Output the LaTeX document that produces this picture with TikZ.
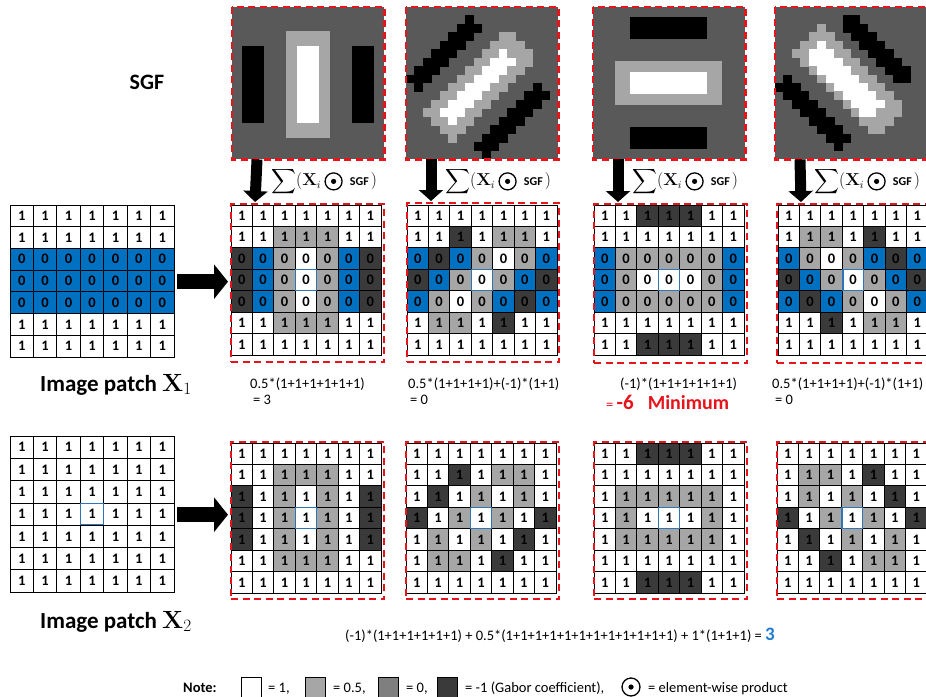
\documentclass[tikz,border=0pt]{standalone}
\usepackage{exscale}
\usepackage[no-math]{fontspec}
\setmainfont{Carlito}
\usetikzlibrary{arrows.meta,positioning}

\definecolor{gW}{HTML}{FFFFFF}
\definecolor{gL}{HTML}{A6A6A6}
\definecolor{gD}{HTML}{3A3A3A}
\definecolor{gB}{HTML}{0070C0}
\definecolor{gZero}{HTML}{7F7F7F}
\definecolor{sgfbg}{HTML}{595959}
\definecolor{centerblue}{HTML}{2E75B6}
\definecolor{redline}{HTML}{E8141B}
\definecolor{numblue}{HTML}{1F7BD0}

\tikzset{
  cell/.style={draw=black, line width=0.8pt, inner sep=0pt, font=\bfseries\fontsize{14.5}{14.5}\selectfont},
  gridbox/.style={draw=black, line width=1.4pt, inner sep=0pt, anchor=north west},
  redframe/.style={draw=redline, line width=2.2pt, dash pattern=on 7pt off 4.5pt, inner sep=0pt, anchor=north west},
  sgfbox/.style={fill=sgfbg, inner sep=0pt, anchor=north west, minimum width=152pt, minimum height=152pt},
  centerbox/.style={draw=centerblue, line width=1.2pt},
  fatarrow/.style={line width=15pt, -{Triangle[width=34pt,length=14pt]}},
  downarrow/.style={line width=11pt, -{Triangle[width=24pt,length=11pt]}},
  sumlbl/.style={anchor=west, inner sep=0pt, font=\fontsize{16}{16}\selectfont},
  odotmark/.style={circle, draw, line width=1.3pt, minimum size=17pt, inner sep=0pt,
    path picture={\fill (path picture bounding box.center) circle (2.6pt);}},
  sgfsmall/.style={inner sep=0pt, font=\bfseries\fontsize{12}{12}\selectfont},
  sumtext/.style={anchor=base west, inner sep=0pt, font=\fontsize{14.5}{16}\selectfont},
  patchcap/.style={anchor=base, inner sep=0pt, font=\bfseries\fontsize{23}{23}\selectfont},
  legbox/.style={draw=black, line width=0.8pt, minimum width=20pt, minimum height=20pt, inner sep=0pt, anchor=north west},
}

% 7x7 colour maps: W white, L 0.5, D -1, Z 0 (blue where the patch is 0)
\def\mapX{{Z,Z,Z,Z,Z,Z,Z},{Z,Z,Z,Z,Z,Z,Z},{Z,Z,Z,Z,Z,Z,Z},{Z,Z,Z,Z,Z,Z,Z},{Z,Z,Z,Z,Z,Z,Z},{Z,Z,Z,Z,Z,Z,Z},{Z,Z,Z,Z,Z,Z,Z}}
\def\mapA{{W,W,W,W,W,W,W},{W,W,L,L,L,W,W},{D,Z,L,W,L,Z,D},{D,Z,L,W,L,Z,D},{D,Z,L,W,L,Z,D},{W,W,L,L,L,W,W},{W,W,W,W,W,W,W}}
\def\mapB{{W,W,W,W,W,W,W},{W,W,D,W,L,L,W},{Z,D,Z,L,W,L,Z},{D,Z,L,W,L,Z,D},{Z,L,W,L,Z,D,Z},{W,L,L,W,D,W,W},{W,W,W,W,W,W,W}}
\def\mapC{{W,W,D,D,D,W,W},{W,W,W,W,W,W,W},{Z,L,L,L,L,L,Z},{Z,L,W,W,W,L,Z},{Z,L,L,L,L,L,Z},{W,W,W,W,W,W,W},{W,W,D,D,D,W,W}}
\def\mapD{{W,W,W,W,W,W,W},{W,L,L,W,D,W,W},{Z,L,W,L,Z,D,Z},{D,Z,L,W,L,Z,D},{Z,D,Z,L,W,L,Z},{W,W,D,W,L,L,W},{W,W,W,W,W,W,W}}

% #1 name, #2 x, #3 y, #4 cell width, #5 cell height, #6 patch (1 or 2), #7 map
\newcommand{\patchgrid}[7]{
  \foreach \rowmap [count=\ri] in #7{
    \foreach \cellcode [count=\ci] in \rowmap{
      \def\fc{g\cellcode}
      \def\val{1}
      \ifnum#6=1 \ifnum\ri>2 \ifnum\ri<6 \def\val{0}\fi\fi\fi
      \if Z\cellcode
        \def\fc{gW}
        \ifnum#6=1 \ifnum\ri>2 \ifnum\ri<6 \def\fc{gB}\fi\fi\fi
      \fi
      \node[cell, fill=\fc, minimum width=#4pt, minimum height=#5pt]
        (#1-\ri-\ci) at ({#2+(\ci-0.5)*#4},{#3+(\ri-0.5)*#5}) {\val};
    }
  }
}

\def\sgfcell{8.4444}
% pixelated diagonal filter, #1 = 1 for /, -1 for \, centre (#2,#3)
\newcommand{\sgfdiag}[3]{
  \foreach \ii in {0,...,17}{
    \foreach \jj in {0,...,17}{
      \pgfmathsetmacro\du{(\ii+0.5)*\sgfcell-#2}
      \pgfmathsetmacro\dv{(\jj+0.5)*\sgfcell-#3}
      \pgfmathsetmacro\uu{abs((\du)+(#1)*(\dv))*0.7071}
      \pgfmathsetmacro\vv{abs((\du)-(#1)*(\dv))*0.7071}
      \pgfmathtruncatemacro\kk{((\uu<9.5)*(\vv<45)) ? 3 : (((\uu<21)*(\vv<59)) ? 2 : (((abs(\uu-46)<9)*(\vv<44)) ? 1 : 0))}
      \ifcase\kk
      \or \fill[black] ({\ii*\sgfcell},{\jj*\sgfcell}) rectangle ++(\sgfcell+0.4,\sgfcell+0.4);
      \or \fill[gL] ({\ii*\sgfcell},{\jj*\sgfcell}) rectangle ++(\sgfcell+0.4,\sgfcell+0.4);
      \or \fill[white] ({\ii*\sgfcell},{\jj*\sgfcell}) rectangle ++(\sgfcell+0.4,\sgfcell+0.4);
      \fi
    }
  }
}

\begin{document}
\begin{tikzpicture}[x=1pt,y=-1pt]
\useasboundingbox (0,0) rectangle (926,696);
\clip (0,0) rectangle (926,696);
\fill[white] (0,0) rectangle (926,696);

% filters
\node[font=\bfseries\fontsize{22}{22}\selectfont] (lblSGF) at (147,82) {SGF};
\node[sgfbox] (s1) at (232,7) {};
\node[sgfbox] (s2) at (406,7) {};
\node[sgfbox] (s3) at (593,7) {};
\node[sgfbox] (s4) at (775,7) {};
\begin{scope}[shift={(232,7)}]
  \fill[black] (10,39) rectangle ++(22,77);
  \fill[black] (120,39) rectangle ++(22,77);
  \fill[gL] (54,24) rectangle ++(44,107);
  \fill[white] (65,39) rectangle ++(22,77);
\end{scope}
\begin{scope}[shift={(406,7)}]
  \sgfdiag{1}{73}{79}
\end{scope}
\begin{scope}[shift={(593,7)}]
  \fill[black] (37,10) rectangle ++(77,22);
  \fill[black] (37,120) rectangle ++(77,22);
  \fill[gL] (22,54) rectangle ++(107,44);
  \fill[white] (37,65) rectangle ++(77,22);
\end{scope}
\begin{scope}[shift={(775,7)}]
  \sgfdiag{-1}{71}{75}
\end{scope}
\foreach \s in {s1,s2,s3,s4}
  \draw[redframe] (\s.north west) rectangle (\s.south east);

% image patches
\patchgrid{pX1}{10}{205}{23.43}{21.7}{1}{\mapX}
\node[gridbox, minimum width=164pt, minimum height=152pt] (pX1) at (10,205) {};
\patchgrid{pX2}{10}{436}{23.43}{22.3}{2}{\mapX}
\node[gridbox, minimum width=164pt, minimum height=156pt] (pX2) at (10,436) {};

% filtered patches
\patchgrid{g11}{231}{205}{21.43}{21.43}{1}{\mapA}
\patchgrid{g12}{407}{205}{21.43}{21.43}{1}{\mapB}
\patchgrid{g13}{594}{205}{21.43}{21.43}{1}{\mapC}
\patchgrid{g14}{778}{205}{21.43}{21.43}{1}{\mapD}
\patchgrid{g21}{231}{443}{21.43}{21.43}{2}{\mapA}
\patchgrid{g22}{406}{443}{21.43}{21.43}{2}{\mapB}
\patchgrid{g23}{594}{443}{21.43}{21.43}{2}{\mapC}
\patchgrid{g24}{777}{443}{21.43}{21.43}{2}{\mapD}
\foreach \g in {pX2,g11,g12,g13,g14,g21,g22,g23,g24}
  \draw[centerbox] ([xshift=1pt,yshift=-1pt]\g-4-4.north west) rectangle ([xshift=-1pt,yshift=1pt]\g-4-4.south east);

\node[redframe, minimum width=153pt, minimum height=158pt] (f11) at (230,203) {};
\node[redframe, minimum width=152pt, minimum height=159pt] (f12) at (406,202) {};
\node[redframe, minimum width=153pt, minimum height=159pt] (f13) at (593,203) {};
\node[redframe, minimum width=153pt, minimum height=159pt] (f14) at (776,203) {};
\node[redframe, minimum width=153pt, minimum height=157pt] (f21) at (230,441) {};
\node[redframe, minimum width=153pt, minimum height=157pt] (f22) at (405,441) {};
\node[redframe, minimum width=153pt, minimum height=157pt] (f23) at (593,441) {};
\node[redframe, minimum width=153pt, minimum height=157pt] (f24) at (776,441) {};

% arrows
\draw[fatarrow, shorten <=2pt, shorten >=2pt] (pX1.east) -- (pX1.east -| f11.west);
\draw[fatarrow, shorten <=2pt, shorten >=2pt] (pX2.east) -- (pX2.east -| f21.west);
\foreach \n in {1,2,3,4}{
  \draw[downarrow, shorten >=1pt] ([xshift=25pt]s\n.south west) -- ([xshift=25pt]f1\n.north west);
  \node[sumlbl] (sum\n) at ([xshift=39pt,yshift=-22pt]s\n.south west) {$\displaystyle\sum(\mathbf{X}_i$};
  \node[odotmark, right=3pt of sum\n] (dot\n) {};
  \node[sgfsmall, right=7pt of dot\n] (sgf\n) {SGF\,{\mdseries\fontsize{16}{16}\selectfont$)$}};
}

% captions and sums
\node[patchcap] (capX1) at (116,391) {Image patch $\mathbf{X}_1$};
\node[patchcap] (capX2) at (116,628) {Image patch $\mathbf{X}_2$};
\node[sumtext] (r11) at (250,388) {0.5*(1+1+1+1+1+1)};
\node[sumtext] (r11b) at (253,404) {= 3};
\node[sumtext] (r12) at (408,388) {0.5*(1+1+1+1)+(-1)*(1+1)};
\node[sumtext] (r12b) at (410,404) {= 0};
\node[sumtext] (r13) at (620,388) {(-1)*(1+1+1+1+1+1)};
\node[sumtext, text=redline] (r13b) at (606,409) {= {\bfseries\fontsize{21}{21}\selectfont -6}\hspace{14pt}{\bfseries\fontsize{20}{20}\selectfont Minimum}};
\node[sumtext] (r14) at (772,388) {0.5*(1+1+1+1)+(-1)*(1+1)};
\node[sumtext] (r14b) at (775,404) {= 0};
\node[sumtext] (r2) at (345,640) {(-1)*(1+1+1+1+1+1) + 0.5*(1+1+1+1+1+1+1+1+1+1+1+1) + 1*(1+1+1) = {\bfseries\fontsize{19}{19}\selectfont\textcolor{numblue}{3}}};

% legend
\node[sumtext] (note) at (183,692) {\bfseries Note:};
\node[legbox, fill=gW] (lw) at (241,677) {};
\node[sumtext] (tw) at (268,692) {= 1,};
\node[legbox, fill=gL] (ll) at (305,677) {};
\node[sumtext] (tl) at (333,692) {= 0.5,};
\node[legbox, fill=gZero] (lz) at (378,677) {};
\node[sumtext] (tz) at (406,692) {= 0,};
\node[legbox, fill=gD] (ld) at (437,677) {};
\node[sumtext] (td) at (465,692) {= -1 (Gabor coefficient),};
\node[odotmark, minimum size=18pt] (ldot) at (631,687) {};
\node[sumtext] (tdot) at (648,692) {= element-wise product};
\end{tikzpicture}
\end{document}
